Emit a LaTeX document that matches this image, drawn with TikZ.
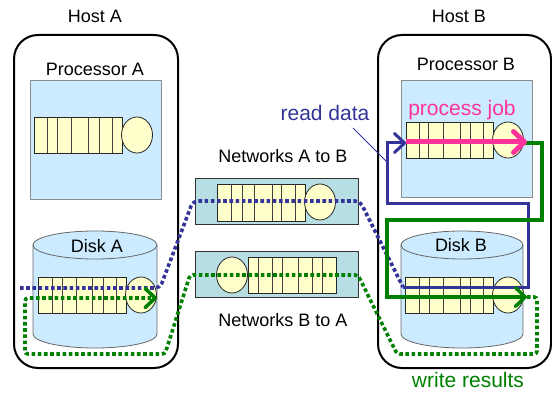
\documentclass[tikz,border=0pt]{standalone}
\usepackage{fontspec}
\setmainfont{Liberation Sans}
\usetikzlibrary{arrows.meta,shapes.geometric}
\definecolor{procfill}{HTML}{CCEBFF}
\definecolor{netfill}{HTML}{B7DEE3}
\definecolor{qfill}{HTML}{FFFFCC}
\definecolor{myblue}{HTML}{333399}
\definecolor{mygreen}{HTML}{008000}
\definecolor{mypink}{HTML}{FF3399}
\tikzset{
  host/.style={draw=black, line width=2pt, rounded corners=24pt},
  procbox/.style={draw=black!45, fill=procfill, line width=1pt},
  netbox/.style={draw=black!80, fill=netfill, line width=1pt},
  diskbody/.style={draw=black!60, fill=procfill, line width=0.8pt},
  qbox/.style={draw=black!85, fill=qfill, line width=0.8pt},
  qline/.style={draw=black!75, line width=0.8pt},
  srv/.style={draw=black!85, fill=qfill, line width=0.8pt},
  lbl/.style={inner sep=0pt, font=\fontsize{18}{20}\selectfont},
  biglbl/.style={inner sep=0pt, font=\fontsize{21}{24}\selectfont},
  bluedot/.style={draw=myblue, line width=3.6pt, dash pattern=on 3.6pt off 2.6pt},
  greendot/.style={draw=mygreen, line width=3.6pt, dash pattern=on 3.6pt off 2.6pt},
  bluesolid/.style={draw=myblue, line width=3pt},
  greensolid/.style={draw=mygreen, line width=3.4pt},
  pinksolid/.style={draw=mypink, line width=5pt},
  chev/.style={-{Straight Barb[length=10pt,width=19pt,round]}},
}
\newcommand\qcells[5]{%
  \draw[qbox] (#1,#2) rectangle (#3,#4);
  \foreach \d in {#5} \draw[qline] (\d,#2) -- (\d,#4);}
\newcommand\srvcirc[3]{%
  \node[srv, ellipse, minimum width=31pt, minimum height=36pt, inner sep=0pt] (#3) at (#1,#2) {};}
\newcommand\diskcyl[4]{%
  \filldraw[diskbody] (#1-#2,#3) -- (#1-#2,#4) arc[start angle=180, end angle=360, x radius=#2pt, y radius=14pt] -- (#1+#2,#3) -- cycle;
  \filldraw[diskbody] (#1,#3) ellipse[x radius=#2pt, y radius=14pt];}
\begin{document}
\begin{tikzpicture}[x=1pt,y=-1pt]
\useasboundingbox (0,0) rectangle (552,393);
% hosts
\draw[host] (14,35) rectangle (178,368);
\draw[host] (378,35) rectangle (551,368);
\node[lbl] (hostA) at (95,16) {Host A};
\node[lbl] (hostB) at (459,16) {Host B};
% processors
\draw[procbox] (30,81) rectangle (161,200);
\draw[procbox] (401,81) rectangle (532,198);
\node[lbl] (procA) at (95,69) {Processor A};
\node[lbl] (procB) at (466,64) {Processor B};
\qcells{34}{117}{122}{153}{47,57,71,88,99,112}
\srvcirc{137}{135}{sA}
\qcells{406}{122}{493}{158}{419,428,443,460,470,483}
\srvcirc{508}{140}{sB}
% disks
\diskcyl{95}{62}{245}{334}
\diskcyl{462}{61}{245}{334}
\node[lbl] (diskA) at (97,246) {Disk A};
\node[lbl] (diskB) at (461,245) {Disk B};
\qcells{38}{277}{126}{313}{52,62,76,92,103,116}
\srvcirc{141}{295}{dA}
\qcells{405}{277}{493}{313}{419,429,443,460,470,483}
\srvcirc{508}{295}{dB}
% networks
\draw[netbox] (195,179) rectangle (358,225);
\draw[netbox] (195,251) rectangle (358,297);
\qcells{217}{184}{305}{221}{231,242,254,272,281,295}
\srvcirc{320}{202}{nAB}
\qcells{248}{257}{336}{293}{258,272,282,298,312,322}
\srvcirc{232}{275}{nBA}
\node[lbl] (netAB) at (283,156) {Networks A to B};
\node[lbl] (netBA) at (283,320) {Networks B to A};
% waypoints
\coordinate (b0) at (20,288);
\coordinate (b1) at (160,288);
\coordinate (b2) at (193,201);
\coordinate (b3) at (360,201);
\coordinate (b4) at (403,287);
\coordinate (b5) at (528,287);
\coordinate (b6) at (528,204);
\coordinate (b7) at (387,204);
\coordinate (b8) at (387,143);
\coordinate (b9) at (406,143);
\coordinate (g0) at (523,143);
\coordinate (g1) at (542,143);
\coordinate (g2) at (542,220);
\coordinate (g3) at (387,220);
\coordinate (g4) at (387,297);
\coordinate (g5) at (527,297);
\coordinate (d1) at (537,297);
\coordinate (d2) at (537,354);
\coordinate (d3) at (397,354);
\coordinate (d4) at (358,275);
\coordinate (d5) at (190,275);
\coordinate (d6) at (165,354);
\coordinate (d7) at (25,354);
\coordinate (d8) at (25,298);
\coordinate (d9) at (157,298);
\coordinate (p0) at (406,142);
\coordinate (p1) at (527,142);
% dotted paths
\draw[bluedot, rounded corners=5pt] (b0) -- (b1) -- (b2) -- (b3) -- (b4);
\draw[greendot, chev, rounded corners=3pt] (g5) -- (d1) -- (d2) -- (d3) -- (d4) -- (d5) -- (d6) -- (d7) -- (d8) -- (d9);
% solid paths
\draw[bluesolid, chev] (b4) -- (b5) -- (b6) -- (b7) -- (b8) -- (b9);
\draw[greensolid, chev] (g0) -- (g1) -- (g2) -- (g3) -- (g4) -- (g5);
\draw[pinksolid, -{Straight Barb[length=11pt,width=21pt,round]}] (p0) -- (p1);
% labels
\node[biglbl, text=myblue] (readl) at (325,113) {read data};
\coordinate (rl) at (353,128);
\coordinate (rl2) at (387,162);
\draw[myblue, line width=0.8pt] (rl) -- (rl2);
\node[biglbl, text=mypink] (procl) at (462,110) {process job};
\node[biglbl, text=mygreen] (writel) at (468,380) {write results};
\end{tikzpicture}
\end{document}
